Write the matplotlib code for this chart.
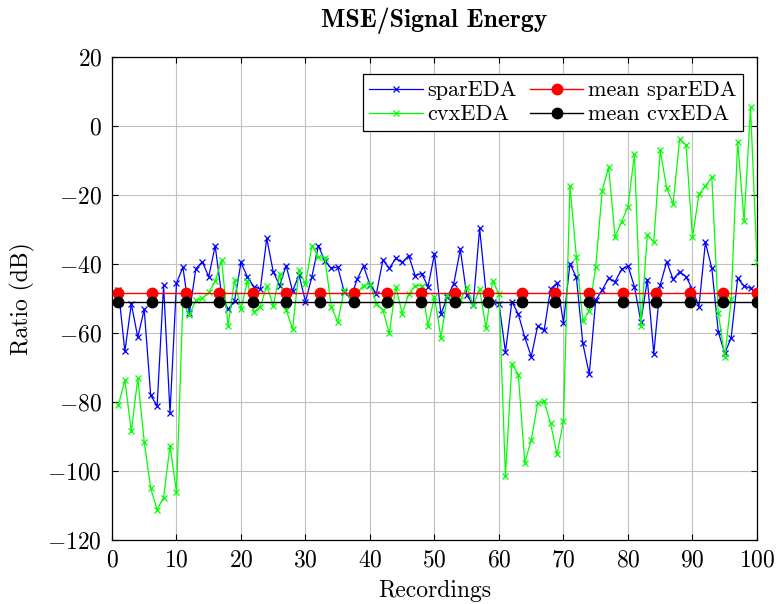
import numpy as np
import matplotlib
matplotlib.use("Agg")
import matplotlib.pyplot as plt
from matplotlib.ticker import FuncFormatter, MultipleLocator

# values (dB), recordings 1..100
recordings = np.arange(1, 101)

spar_eda = [
    -47.5, -65.3, -51.5, -61.2, -53.1, -78.0, -81.1, -46.1, -83.2, -45.5,
    -40.9, -54.2, -41.3, -39.3, -43.6, -34.7, -49.0, -53.1, -50.7, -39.5,
    -43.7, -46.5, -47.2, -32.5, -42.2, -46.2, -40.4, -47.8, -43.1, -50.9,
    -43.6, -34.6, -39.1, -41.2, -40.8, -48.0, -50.0, -44.4, -40.5, -46.0,
    -48.5, -38.8, -41.2, -38.3, -39.5, -37.5, -43.3, -42.7, -46.5, -37.0,
    -54.5, -49.5, -45.6, -35.7, -48.9, -51.9, -29.6, -48.5, -51.0, -51.4,
    -65.4, -50.9, -54.5, -61.2, -66.8, -57.9, -59.2, -47.2, -45.4, -57.0,
    -39.8, -43.8, -63.0, -71.9, -50.4, -47.5, -44.1, -45.1, -41.5, -40.5,
    -46.5, -56.7, -44.5, -66.0, -46.0, -39.3, -44.4, -42.2, -43.6, -47.3,
    -52.3, -33.7, -41.2, -59.6, -65.9, -61.3, -44.1, -46.3, -47.0, -48.5,
]

cvx_eda = [
    -80.8, -73.6, -88.5, -73.1, -91.5, -105.0, -111.2, -107.7, -92.7, -106.0,
    -51.0, -54.7, -50.5, -49.9, -48.2, -45.0, -38.8, -57.8, -44.6, -53.0,
    -44.9, -53.8, -52.3, -46.3, -52.0, -42.8, -53.3, -58.8, -41.7, -45.8,
    -34.6, -37.8, -38.1, -52.4, -56.7, -47.5, -50.0, -48.2, -46.2, -45.6,
    -51.4, -53.3, -60.1, -46.5, -54.3, -48.7, -46.2, -46.2, -57.8, -49.5,
    -61.3, -48.9, -50.4, -50.4, -46.7, -51.8, -47.3, -58.6, -44.8, -48.5,
    -101.4, -69.0, -72.0, -97.6, -91.0, -80.4, -79.8, -86.2, -95.2, -85.4,
    -17.3, -37.8, -56.4, -53.5, -40.7, -18.7, -11.9, -32.0, -27.7, -23.3,
    -8.1, -57.9, -31.4, -33.6, -6.9, -18.0, -22.4, -3.8, -5.4, -32.2,
    -19.7, -17.3, -14.8, -54.1, -67.0, -50.2, -4.5, -27.4, 5.5, -39.3,
]

mean_spar = -48.4
mean_cvx = -50.9
mean_x = np.linspace(1, 100, 20)

plt.rcParams['font.family'] = ['cmr10', 'DejaVu Serif']
plt.rcParams['mathtext.fontset'] = 'cm'
plt.rcParams['axes.formatter.use_mathtext'] = True

fig = plt.figure(figsize=(7.76, 6.04), dpi=100)
ax = fig.add_axes([0.1443, 0.106, 0.8312, 0.799])

ax.plot(recordings, spar_eda, color='blue', lw=0.9, marker='x', ms=5,
        mew=0.9, label='sparEDA', zorder=3)
ax.plot(mean_x, np.full_like(mean_x, mean_spar), color='red', lw=1.0,
        marker='o', ms=7.5, label='mean sparEDA', zorder=4)
ax.plot(recordings, cvx_eda, color='#00ff00', lw=0.9, marker='x', ms=5,
        mew=0.9, label='cvxEDA', zorder=3)
ax.plot(mean_x, np.full_like(mean_x, mean_cvx), color='black', lw=1.0,
        marker='o', ms=7.5, label='mean cvxEDA', zorder=4)

ax.set_xlim(0, 100)
ax.set_ylim(-120, 20)
ax.xaxis.set_major_locator(MultipleLocator(10))
ax.yaxis.set_major_locator(MultipleLocator(20))
ax.xaxis.set_major_formatter(FuncFormatter(lambda v, p: r'$%d$' % v))
ax.yaxis.set_major_formatter(FuncFormatter(lambda v, p: r'$%d$' % v))
ax.tick_params(direction='in', length=4, width=0.8, top=True, right=True,
               labelsize=17, pad=7)
ax.grid(True, color='#c0c0c0', lw=0.8)
ax.set_axisbelow(True)
for s in ax.spines.values():
    s.set_linewidth(0.9)

ax.set_xlabel('Recordings', fontsize=17, labelpad=6)
ax.set_ylabel('Ratio (dB)', fontsize=17, labelpad=9)
ax.set_title('MSE/Signal Energy', fontsize=18.5, fontfamily='cmb10', pad=22)

h, l = ax.get_legend_handles_labels()
order = [0, 2, 1, 3]
leg = ax.legend([h[i] for i in order], [l[i] for i in order], ncol=2,
                loc='upper right', bbox_to_anchor=(0.978, 0.965),
                borderaxespad=0, fontsize=16, fancybox=False,
                edgecolor='black', framealpha=1, handlelength=2.4,
                columnspacing=0.6, borderpad=0.3, labelspacing=0.2,
                handletextpad=0.2)
leg.get_frame().set_linewidth(0.9)

fig.savefig('out.png', dpi=100)
